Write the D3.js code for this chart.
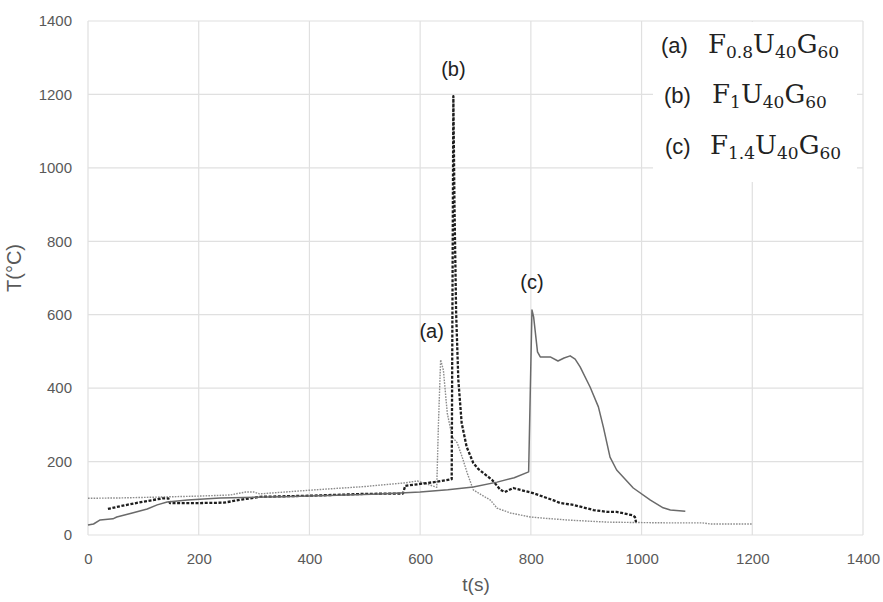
<!DOCTYPE html>
<html>
<head>
<meta charset="utf-8">
<script src="https://cdn.jsdelivr.net/npm/d3@7"></script>
<style>
  html, body { margin: 0; padding: 0; background: #fff; }
  svg { display: block; }
</style>
</head>
<body>
<svg id="chart" width="883" height="602"></svg>
<script>
// ---- data ----
const xTicks = [0, 200, 400, 600, 800, 1000, 1200, 1400];
const yTicks = [0, 200, 400, 600, 800, 1000, 1200, 1400];

// (a) F0.8U40G60 — thin light dotted
const tA = [0, 60, 120, 200, 257, 270, 285, 300, 310, 400, 500, 573, 585, 595, 610, 630, 633, 637, 642, 649, 658, 667, 676, 685, 696, 710, 727, 739, 763, 799, 830, 865, 900, 940, 990, 1050, 1110, 1125, 1200];
const TA = [100, 101, 103, 106, 109, 113, 117, 117, 112, 122, 132, 142, 145, 147, 140, 130, 300, 477, 449, 332, 267, 251, 212, 169, 123, 110, 95, 73, 60, 49, 45, 41, 38, 35, 34, 33, 33, 30, 30];

// (b) F1U40G60 — thick dark dashed
const tB = [36, 60, 90, 120, 136, 145, 148, 200, 245, 280, 311, 400, 500, 569, 573, 600, 630, 657, 660, 662, 665, 669, 675, 684, 696, 705, 714, 730, 745, 753, 768, 804, 840, 853, 877, 913, 938, 955, 983, 988, 990];
const TB = [71, 79, 88, 96, 100, 100, 87, 87, 88, 97, 104, 107, 112, 113, 134, 139, 145, 152, 1195, 900, 605, 422, 305, 240, 196, 180, 169, 150, 123, 117, 128, 114, 95, 87, 82, 68, 63, 63, 54, 49, 35];

// (c) F1.4U40G60 — medium grey solid
const tC = [0, 10, 22, 45, 52, 80, 107, 125, 143, 180, 239, 350, 450, 528, 600, 650, 696, 739, 770, 796, 802, 805, 812, 817, 835, 849, 860, 871, 880, 889, 907, 922, 931, 943, 955, 985, 1016, 1039, 1052, 1079];
const TC = [27, 30, 41, 44, 49, 60, 71, 82, 90, 95, 101, 104, 108, 112, 117, 123, 131, 144, 156, 172, 613, 594, 499, 485, 485, 474, 482, 488, 479, 458, 403, 349, 294, 212, 177, 128, 95, 74, 68, 65];

const seriesNames = ["(a)", "(b)", "(c)"];
const legendSub = ["0.8", "1", "1.4"];
const peakLabelT = [637, 660, 802];
const peakLabelV = [477, 1195, 613];

// ---- drawing ----
const svg = d3.select("#chart");
const x = d3.scaleLinear().domain([0, 1400]).range([88, 863]);
const y = d3.scaleLinear().domain([0, 1400]).range([535, 21]);

const gridColor = "#e0e0e0";
const g = svg.append("g");
g.selectAll(".vg").data(xTicks).enter().append("line")
  .attr("x1", d => x(d)).attr("x2", d => x(d))
  .attr("y1", y(0)).attr("y2", y(1400))
  .attr("stroke", gridColor).attr("stroke-width", 1.2);
g.selectAll(".hg").data(yTicks).enter().append("line")
  .attr("x1", x(0)).attr("x2", x(1400))
  .attr("y1", d => y(d)).attr("y2", d => y(d))
  .attr("stroke", gridColor).attr("stroke-width", 1.2);

// axes (labels only, via d3 axes)
const fmt = d3.format("d");
const xAxis = d3.axisBottom(x).tickValues(xTicks).tickFormat(fmt).tickSize(0).tickPadding(18);
const yAxis = d3.axisLeft(y).tickValues(yTicks).tickFormat(fmt).tickSize(0).tickPadding(16);
const gx = svg.append("g").attr("transform", `translate(0,${y(0)})`).call(xAxis);
const gy = svg.append("g").attr("transform", `translate(${x(0)},0)`).call(yAxis);
[gx, gy].forEach(a => {
  a.select(".domain").remove();
  a.selectAll("text").attr("fill", "#595959")
    .style("font-family", "'Liberation Sans', Arial, sans-serif").style("font-size", "15px");
});

// series
const line = d3.line().x(d => x(d[0])).y(d => y(d[1]));
const zip = (a, b) => a.map((v, i) => [v, b[i]]);
const series = [
  { pts: zip(tA, TA), color: "#8c8c8c", w: 1.4, dash: "1.6,1.2" },
  { pts: zip(tB, TB), color: "#1e1e1e", w: 2.3, dash: "3,1.6" },
  { pts: zip(tC, TC), color: "#6a6a6a", w: 1.5, dash: null }
];
series.forEach(s => {
  svg.append("path").datum(s.pts).attr("d", line)
    .attr("fill", "none").attr("stroke", s.color).attr("stroke-width", s.w)
    .attr("stroke-dasharray", s.dash).attr("stroke-linejoin", "round");
});

// peak labels
const labOff = [[-9, -22], [0, -20], [0, -21]];
seriesNames.forEach((n, i) => {
  svg.append("text").attr("x", x(peakLabelT[i]) + labOff[i][0]).attr("y", y(peakLabelV[i]) + labOff[i][1])
    .attr("text-anchor", "middle").attr("fill", "#222")
    .style("font-family", "'Liberation Sans', Arial, sans-serif").style("font-size", "20px")
    .text(n);
});

// axis titles
svg.append("text").attr("transform", "translate(21,268) rotate(-90)")
  .attr("text-anchor", "middle").attr("fill", "#595959")
  .style("font-family", "'Liberation Sans', Arial, sans-serif").style("font-size", "20px")
  .text("T(°C)");
svg.append("text").attr("x", 476).attr("y", 591)
  .attr("text-anchor", "middle").attr("fill", "#595959")
  .style("font-family", "'Liberation Sans', Arial, sans-serif").style("font-size", "19px")
  .text("t(s)");

// legend box
svg.append("rect").attr("x", 653).attr("y", 22).attr("width", 204).attr("height", 160).attr("fill", "#fff");
const legX = [661, 664, 665];
const legFX = [708, 712, 710];
const legY = [53, 103, 154];
seriesNames.forEach((n, i) => {
  svg.append("text").attr("x", legX[i]).attr("y", legY[i]).attr("fill", "#222")
    .style("font-family", "'Liberation Sans', Arial, sans-serif").style("font-size", "22px")
    .text(n);
  const t = svg.append("text").attr("x", legFX[i]).attr("y", legY[i]).attr("fill", "#222")
    .style("font-family", "'DejaVu Serif', 'Liberation Serif', serif").style("font-size", "26px");
  const parts = [["F", legendSub[i]], ["U", "40"], ["G", "60"]];
  parts.forEach((p, k) => {
    t.append("tspan").attr("dy", k === 0 ? 0 : -5).text(p[0]);
    t.append("tspan").attr("dy", 5).style("font-size", "17px").text(p[1]);
  });
});
</script>
</body>
</html>
